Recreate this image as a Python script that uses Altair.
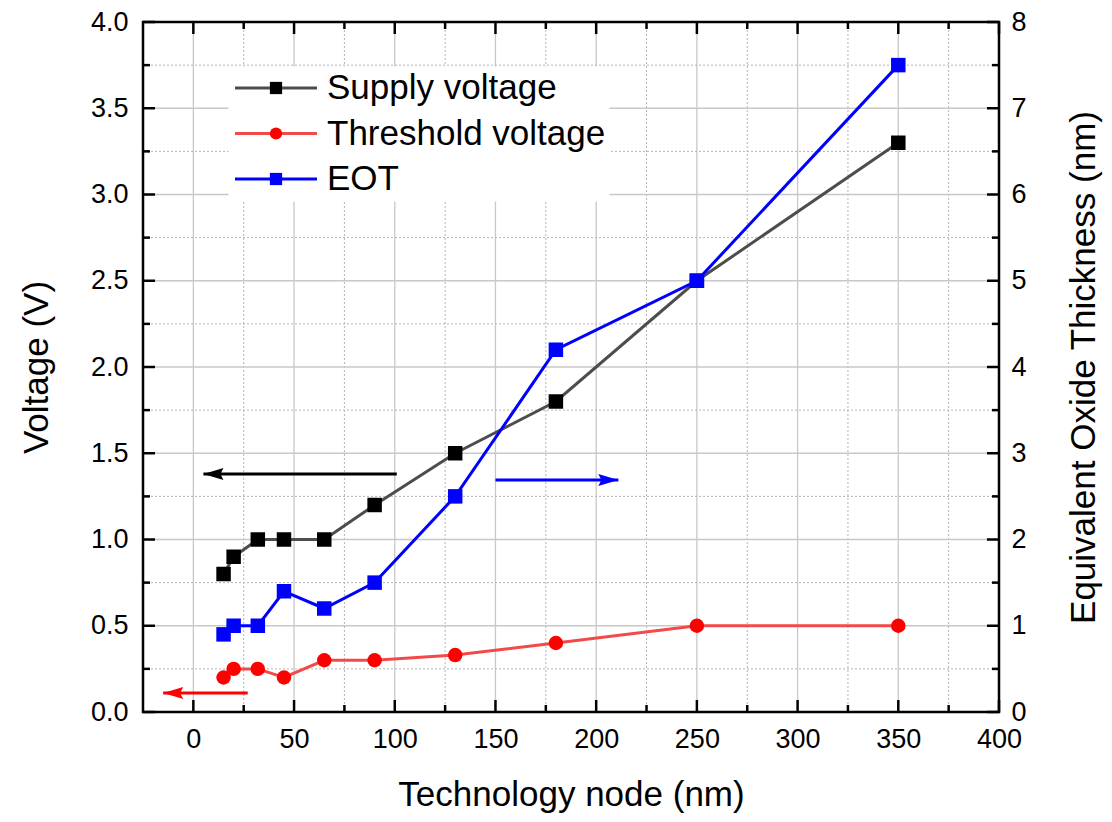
import altair as alt
import pandas as pd

# ---------------- data ----------------
nodes = [15, 20, 32, 45, 65, 90, 130, 180, 250, 350]
supply_v = [0.8, 0.9, 1.0, 1.0, 1.0, 1.2, 1.5, 1.8, 2.5, 3.3]
threshold_v = [0.2, 0.25, 0.25, 0.2, 0.3, 0.3, 0.33, 0.4, 0.5, 0.5]
eot_nm = [0.9, 1.0, 1.0, 1.4, 1.2, 1.5, 2.5, 4.2, 5.0, 7.5]

series_names = ["Supply voltage", "Threshold voltage", "EOT"]
marker_codes = ["sv", "tv", "eot"]

x_major = [0, 50, 100, 150, 200, 250, 300, 350, 400]
x_minor = [25, 75, 125, 175, 225, 275, 325, 375]
y_major = [0.0, 0.5, 1.0, 1.5, 2.0, 2.5, 3.0, 3.5, 4.0]
y_minor = [0.25, 0.75, 1.25, 1.75, 2.25, 2.75, 3.25, 3.75]
eot_ticks = [0, 1, 2, 3, 4, 5, 6, 7, 8]

# annotation arrows: supply (left axis), threshold (left axis), EOT (right axis)
arrow_tail = [101, 27, 150]
arrow_tip = [5, -15, 211]
arrow_level = [1.38, 0.11, 2.69]

# ---------------- layout / style ----------------
W, H = 856, 690
FONT = "Liberation Sans"
X = alt.Scale(domain=[-25, 400], nice=False, zero=False)
YV = alt.Scale(domain=[0, 4], nice=False, zero=False)
YE = alt.Scale(domain=[0, 8], nice=False, zero=False)

color_scale = alt.Scale(domain=series_names, range=["#4d4d4d", "#f24a4a", "#0000ff"])
fill_scale = alt.Scale(domain=marker_codes, range=["#000000", "#ff0000", "#0000ff"])
shape_scale = alt.Scale(domain=marker_codes, range=["square", "circle", "square"])

volt = pd.DataFrame({
    "node": nodes + nodes,
    "value": supply_v + threshold_v,
    "series": [series_names[0]] * len(nodes) + [series_names[1]] * len(nodes),
    "marker": [marker_codes[0]] * len(nodes) + [marker_codes[1]] * len(nodes),
})
eot = pd.DataFrame({
    "node": nodes,
    "value": eot_nm,
    "series": [series_names[2]] * len(nodes),
    "marker": [marker_codes[2]] * len(nodes),
})

LEG_X, LEG_Y = 85.5, 44.5
leg_lines = alt.Legend(
    title=None, orient="none", legendX=LEG_X, legendY=LEG_Y,
    symbolType="M-3.417,0H3.417", symbolSize=576, symbolStrokeWidth=3,
    symbolOffset=26, labelOffset=33.5, labelFontSize=35, labelFont=FONT,
    labelColor="black", labelLimit=500, fillColor="white", padding=4,
    rowPadding=9.5,
)
leg_marks = alt.Legend(
    title=None, orient="none", legendX=LEG_X, legendY=LEG_Y,
    symbolSize=150, symbolStrokeWidth=0, symbolOffset=26,
    labelOffset=33.5, labelFontSize=35, labelFont=FONT, labelExpr="''",
    labelLimit=500, padding=4, rowPadding=9.5,
)

# one identical x-axis definition for every layer so the shared axis merges
x_axis = alt.Axis(
    title="Technology node (nm)", values=x_major, grid=False,
    ticks=False, domain=False, labelFlush=False,
    labelPadding=14, titlePadding=25,
)
yv_axis = alt.Axis(
    title="Voltage (V)", orient="left", values=y_major, format=".1f", grid=False,
    ticks=False, domain=False,
    labelPadding=15, titlePadding=36,
)
ye_axis = alt.Axis(
    title="Equivalent Oxide Thickness (nm)", orient="right",
    values=eot_ticks, format="d", grid=False, ticks=False, domain=False,
    labelPadding=12, titlePadding=75, titleAngle=270,
)


def xenc(field):
    return alt.X(field, type="quantitative", scale=X, axis=x_axis)


# ---------------- layers ----------------
def grid_rules(values, axis, dashed):
    df = pd.DataFrame({"t": values})
    if dashed:
        m = alt.Chart(df).mark_rule(color="#b4b4b4", strokeWidth=1, strokeDash=[2, 2])
    else:
        m = alt.Chart(df).mark_rule(color="#c8c8c8", strokeWidth=1.3)
    if axis == "x":
        return m.encode(x=xenc("t"), y=alt.value(0), y2=alt.value(H))
    return m.encode(y=alt.Y("t:Q", scale=YV, axis=None), x=alt.value(0), x2=alt.value(W))


def tick_rules(values, length, side):
    df = pd.DataFrame({"t": values})
    m = alt.Chart(df).mark_rule(color="black", strokeWidth=2.5)
    if side == "bottom":
        return m.encode(x=xenc("t"), y=alt.value(H), y2=alt.value(H - length))
    if side == "top":
        return m.encode(x=xenc("t"), y=alt.value(0), y2=alt.value(length))
    if side == "left":
        return m.encode(y=alt.Y("t:Q", scale=YV, axis=None), x=alt.value(0), x2=alt.value(length))
    return m.encode(y=alt.Y("t:Q", scale=YV, axis=None), x=alt.value(W), x2=alt.value(W - length))


def arrow_layers(i, yscale, color, path):
    df = pd.DataFrame({"tail": [arrow_tail[i]], "tip": [arrow_tip[i]], "level": [arrow_level[i]]})
    base = alt.Chart(df)
    shaft = base.mark_rule(color=color, strokeWidth=3).encode(
        x=xenc("tail"), x2="tip:Q",
        y=alt.Y("level:Q", scale=yscale, axis=None))
    head = base.mark_point(shape=path, filled=True, color=color, size=400,
                           opacity=1, strokeWidth=0).encode(
        x=xenc("tip"),
        y=alt.Y("level:Q", scale=yscale, axis=None))
    return [shaft, head]


LEFT_HEAD = "M0,0L2,-0.6L1.7,0L2,0.6Z"
RIGHT_HEAD = "M0,0L-2,-0.6L-1.7,0L-2,0.6Z"

volt_lines = alt.Chart(volt).mark_line(strokeWidth=3).encode(
    x=xenc("node"),
    y=alt.Y("value:Q", scale=YV, axis=yv_axis),
    color=alt.Color("series:N", scale=color_scale, legend=leg_lines),
)
volt_points = alt.Chart(volt).mark_point(filled=True, size=210, opacity=1, strokeWidth=0).encode(
    x=xenc("node"),
    y=alt.Y("value:Q", scale=YV, axis=None),
    fill=alt.Fill("marker:N", scale=fill_scale, legend=leg_marks),
    shape=alt.Shape("marker:N", scale=shape_scale, legend=leg_marks),
)
eot_line = alt.Chart(eot).mark_line(strokeWidth=3).encode(
    x=xenc("node"),
    y=alt.Y("value:Q", scale=YE, axis=ye_axis),
    color=alt.Color("series:N", scale=color_scale, legend=leg_lines),
)
eot_points = alt.Chart(eot).mark_point(filled=True, size=210, opacity=1, strokeWidth=0).encode(
    x=xenc("node"),
    y=alt.Y("value:Q", scale=YE, axis=None),
    fill=alt.Fill("marker:N", scale=fill_scale, legend=leg_marks),
    shape=alt.Shape("marker:N", scale=shape_scale, legend=leg_marks),
)

layers = [
    grid_rules([v for v in x_major if -25 < v < 400], "x", False),
    grid_rules(x_minor, "x", True),
    grid_rules([v for v in y_major if 0 < v < 4], "y", False),
    grid_rules(y_minor, "y", True),
    tick_rules(x_major, 12, "bottom"), tick_rules(x_minor, 7, "bottom"),
    tick_rules(x_major, 12, "top"), tick_rules(x_minor, 7, "top"),
    tick_rules(y_major, 12, "left"), tick_rules(y_minor, 7, "left"),
    tick_rules(y_major, 12, "right"), tick_rules(y_minor, 7, "right"),
    volt_lines, volt_points, eot_line, eot_points,
]
layers += arrow_layers(0, YV, "#000000", LEFT_HEAD)
layers += arrow_layers(1, YV, "#ff0000", LEFT_HEAD)
layers += arrow_layers(2, YE, "#0000ff", RIGHT_HEAD)

chart = (
    alt.layer(*layers)
    .resolve_scale(y="independent")
    .properties(
        width=W, height=H,
        autosize=alt.AutoSizeParams(type="none"),
        padding={"left": 135, "top": 14, "right": 105, "bottom": 102},
        background="white",
    )
    .configure_view(stroke="black", strokeWidth=2.5)
    .configure_axis(
        labelFont=FONT, titleFont=FONT, labelFontSize=27, titleFontSize=35,
        labelColor="black", titleColor="black", titleFontWeight="normal",
    )
)

chart.save("out.html", embed_options={"renderer": "svg", "actions": False})
